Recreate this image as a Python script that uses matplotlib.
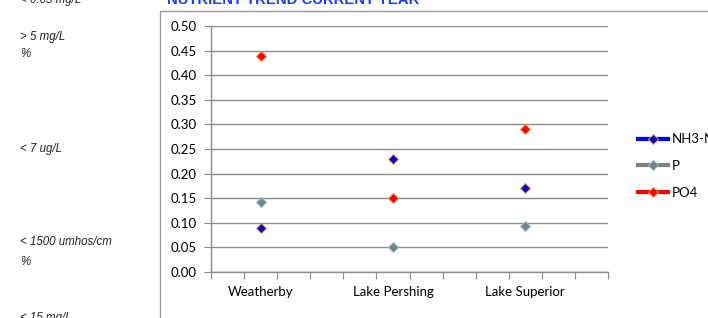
import matplotlib
matplotlib.use("Agg")
import matplotlib.pyplot as plt
from matplotlib.lines import Line2D
from matplotlib.patches import Rectangle

# ---- data ----
sites = ["Weatherby", "Lake Pershing", "Lake Superior"]
site_slots = [1, 5, 9]          # category slot index among 12 slots
n_slots = 12
nh3n = [0.09, 0.23, 0.17]
p = [0.143, 0.05, 0.094]
po4 = [0.44, 0.15, 0.29]
series_names = ["NH3-N", "P", "PO4"]
yticks = [0.00, 0.05, 0.10, 0.15, 0.20, 0.25, 0.30, 0.35, 0.40, 0.45, 0.50]
side_notes = ["< 0.05 mg/L", "> 5 mg/L", "%", "< 7 ug/L", "< 1500 umhos/cm", "%", "< 15 mg/L"]
side_note_y = [0, 37, 54, 149, 242, 262, 318]
title = "NUTRIENT TREND CURRENT YEAR"

W, H = 708, 318
fig = plt.figure(figsize=(W / 100, H / 100), dpi=100)
fig.patch.set_facecolor("white")

# chart border
fig.patches.append(Rectangle((160 / W, -0.05), 1.0, 1 - 11 / H + 0.05,
                             transform=fig.transFigure, fill=False,
                             edgecolor="#9a9a9a", linewidth=1.0))

ax = fig.add_axes([211 / W, 1 - 272 / H, (608 - 211) / W, (272 - 26) / H])
ax.set_xlim(0, n_slots)
ax.set_ylim(0, 0.5)

xs = [s + 0.5 for s in site_slots]
styles = [
    dict(mfc="#0000cc", mec="#f79646", color="#0000ff"),
    dict(mfc="#7f7f7f", mec="#7fc3d8", color="#808080"),
    dict(mfc="#ff0000", mec="#f79646", color="#ff0000"),
]
for vals, st in zip([nh3n, p, po4], styles):
    ax.plot(xs, vals, linestyle="none", marker="D", markersize=5.5,
            markerfacecolor=st["mfc"], markeredgecolor=st["mec"],
            markeredgewidth=0.7, zorder=3)

ax.set_yticks(yticks)
ax.set_yticklabels([f"{v:.2f}" for v in yticks], fontfamily="Lato", fontsize=9.5)
ax.grid(axis="y", color="#8a8a8a", linewidth=1.0)
ax.set_axisbelow(True)

ax.set_xticks(range(0, n_slots + 1))
ax.set_xticklabels([])
ax.set_xticks(xs, minor=True)
ax.set_xticklabels(sites, minor=True, fontfamily="Lato", fontsize=9.5)
ax.tick_params(axis="x", which="minor", length=0, pad=10)
ax.tick_params(axis="x", which="major", length=5, color="#8a8a8a", direction="out")
ax.tick_params(axis="y", length=5, color="#8a8a8a", direction="out", pad=5)

for s in ["top", "right"]:
    ax.spines[s].set_visible(False)
for s in ["left", "bottom"]:
    ax.spines[s].set_color("#8a8a8a")
    ax.spines[s].set_linewidth(1.0)

# legend
handles = [Line2D([0], [0], color=st["color"], linewidth=3, marker="D",
                  markersize=5.5, markerfacecolor=st["mfc"],
                  markeredgecolor=st["mec"], markeredgewidth=0.7)
           for st in styles]
fig.legend(handles, series_names, loc="center left",
           bbox_to_anchor=(638 / W, 1 - 166 / H), frameon=False,
           prop=dict(family="Lato", size=9.5), handlelength=2.3,
           handletextpad=0.25, labelspacing=1.1, borderaxespad=0,
           borderpad=0)

# title (partly clipped at top, as in the source)
fig.text(167 / W, 1 - 4 / H, title, color="#1a3cff", fontweight="bold",
         fontfamily="Liberation Sans", fontsize=10.7, va="baseline", ha="left")

# side notes
for txt, yy in zip(side_notes, side_note_y):
    fig.text(20 / W, 1 - yy / H, txt, fontstyle="italic",
             fontfamily="Liberation Sans", fontsize=8.3, va="center", ha="left",
             color="#222222")

fig.savefig("out.png", dpi=100)
